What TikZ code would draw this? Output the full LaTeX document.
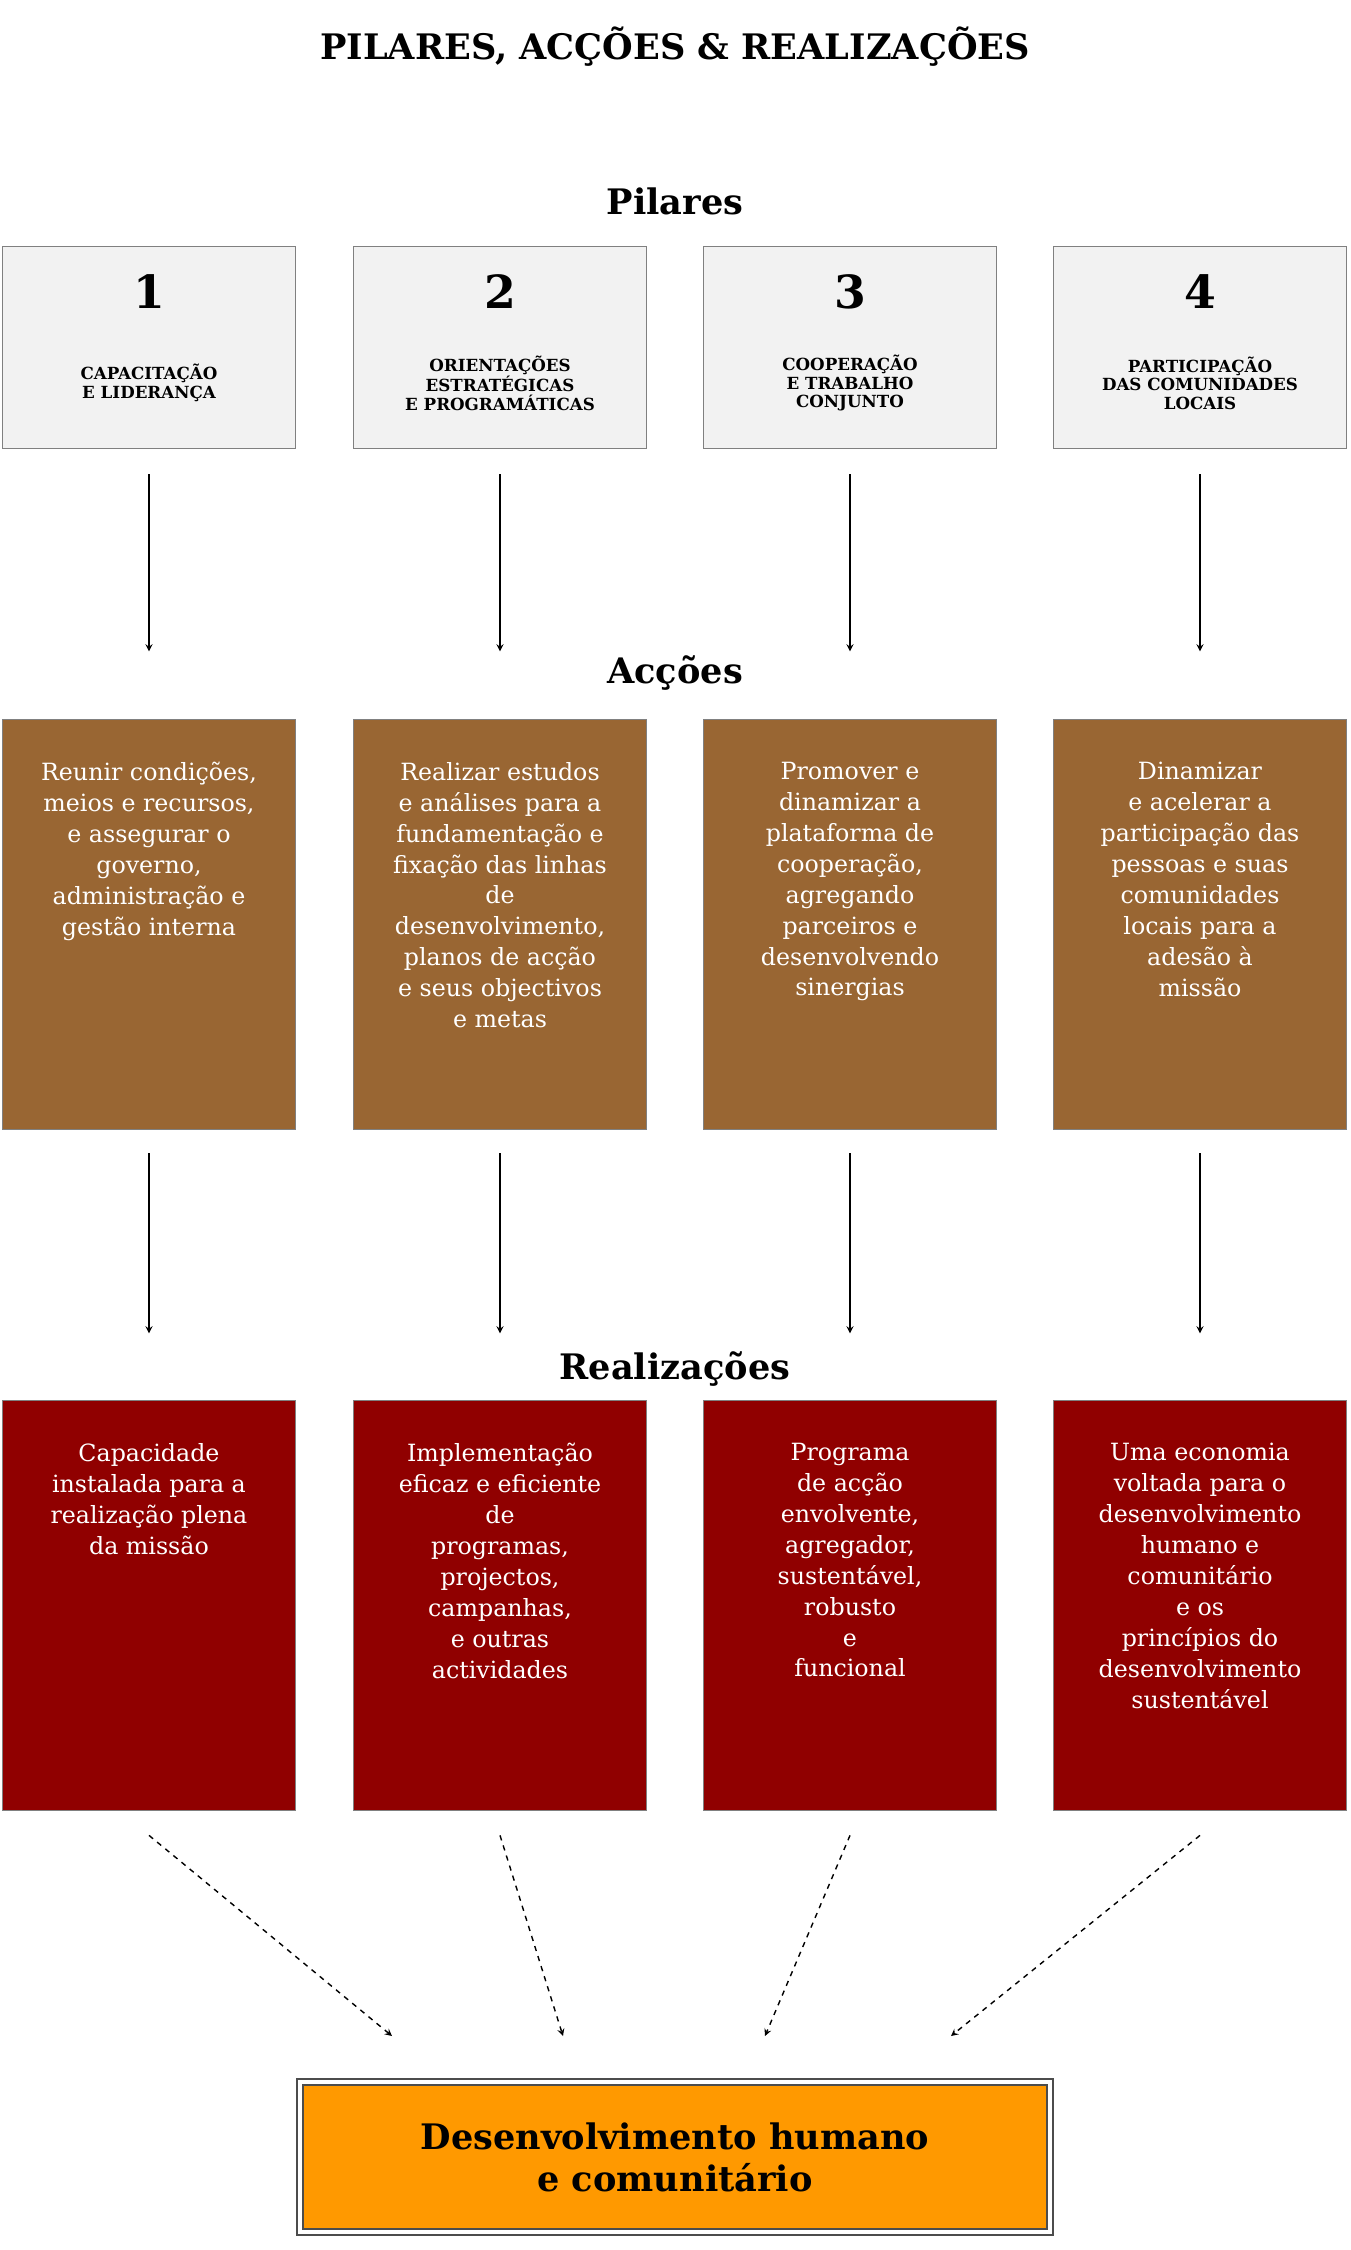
\documentclass[tikz,border=0pt]{standalone}
\usepackage{fontspec}
\setmainfont{DejaVu Serif}
\usetikzlibrary{positioning}
\newlength\pxu
\setlength\pxu{0.02cm}
\definecolor{pilarfill}{RGB}{242,242,242}
\definecolor{accaofill}{RGB}{153,102,51}
\definecolor{realfill}{RGB}{144,0,0}
\definecolor{fimfill}{RGB}{255,153,0}
\tikzset{
  pilar/.style={draw=gray,fill=pilarfill,minimum width=293\pxu,minimum height=202\pxu,inner sep=0pt},
  acao/.style={draw=gray,fill=accaofill,text=white,minimum width=293\pxu,minimum height=410\pxu,inner sep=0pt},
  real/.style={draw=gray,fill=realfill,text=white,minimum width=293\pxu,minimum height=410\pxu,inner sep=0pt},
  corpo/.style={text=white,align=center,font=\fontsize{13.5}{17.6}\selectfont,anchor=north},
  cabec/.style={font=\bfseries\fontsize{20}{24}\selectfont},
  seta/.style={->,>=stealth,thick},
  setad/.style={->,>=stealth,thick,dashed}
}
\begin{document}
\begin{tikzpicture}[x=0.02cm,y=-0.02cm]
\useasboundingbox (0,0) rectangle (1350,2250);
\node[cabec] (titulo) at (675,47) {PILARES, ACÇÕES \& REALIZAÇÕES};
\node[cabec] (hpil) at (675,201) {Pilares};
\node[cabec] (hacc) at (675,673) {Acções};
\node[cabec] (hrea) at (675,1369) {Realizações};

% pilares
\foreach \i/\x/\num/\txt in {1/149/1/{CAPACITAÇÃO\\E LIDERANÇA},2/500/2/{ORIENTAÇÕES\\ESTRATÉGICAS\\E PROGRAMÁTICAS},3/850/3/{COOPERAÇÃO\\E TRABALHO\\CONJUNTO},4/1200/4/{PARTICIPAÇÃO\\DAS COMUNIDADES\\LOCAIS}}{
  \node[pilar] (p\i) at (\x,347) {};
  \node[font=\bfseries\fontsize{26}{30}\selectfont] (pn\i) at (\x,292) {\num};
  \node[font=\bfseries\fontsize{9.5}{10.5}\selectfont,align=center] (pt\i) at (\x,383) {\txt};
}

% accoes
\foreach \i/\x/\txt in {1/149/{Reunir condições,\\meios e recursos,\\e assegurar o\\governo,\\administração e\\gestão interna},2/500/{Realizar estudos\\e análises para a\\fundamentação e\\fixação das linhas\\de\\desenvolvimento,\\planos de acção\\e seus objectivos\\e metas},3/850/{Promover e\\dinamizar a\\plataforma de\\cooperação,\\agregando\\parceiros e\\desenvolvendo\\sinergias},4/1200/{Dinamizar\\e acelerar a\\participação das\\pessoas e suas\\comunidades\\locais para a\\adesão à\\missão}}{
  \node[acao] (a\i) at (\x,924) {};
  \node[corpo] (at\i) at (\x,756) {\txt};
}

% realizacoes
\foreach \i/\x/\txt in {1/149/{Capacidade\\instalada para a\\realização plena\\da missão},2/500/{Implementação\\eficaz e eficiente\\de\\programas,\\projectos,\\campanhas,\\e outras\\actividades},3/850/{Programa\\de acção\\envolvente,\\agregador,\\sustentável,\\robusto\\e\\funcional},4/1200/{Uma economia\\voltada para o\\desenvolvimento\\humano e\\comunitário\\e os\\princípios do\\desenvolvimento\\sustentável}}{
  \node[real] (r\i) at (\x,1605) {};
  \node[corpo] (rt\i) at (\x,1437) {\txt};
}

\node[draw=gray!60!black,double=white,line width=1.5pt,double distance=2pt,fill=fimfill,minimum width=750\pxu,minimum height=150\pxu,align=center,font=\bfseries\fontsize{20}{24}\selectfont] (fim) at (675,2157) {Desenvolvimento humano\\e comunitário};

\foreach \i in {1,...,4}{
  \draw[seta] ([yshift=-26\pxu]p\i.south) -- ([yshift=-203\pxu]p\i.south);
  \draw[seta] ([yshift=-24\pxu]a\i.south) -- ([yshift=-204\pxu]a\i.south);
}
\coordinate (f1) at (392,2036);
\coordinate (f2) at (563,2036);
\coordinate (f3) at (765,2036);
\coordinate (f4) at (951,2036);
\foreach \i in {1,...,4}
  \draw[setad] ([yshift=-25\pxu]r\i.south) -- (f\i);
\end{tikzpicture}
\end{document}
